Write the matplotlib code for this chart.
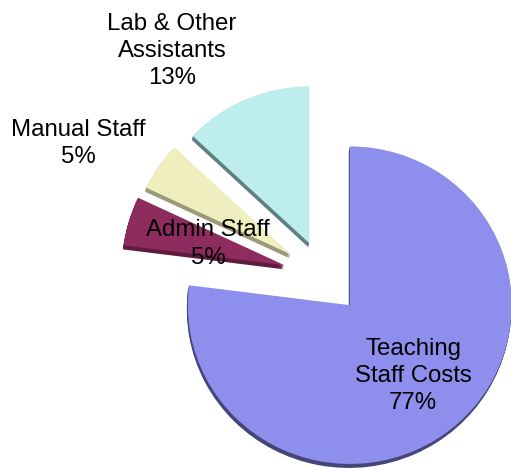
import matplotlib
matplotlib.use("Agg")
import matplotlib.pyplot as plt

categories = ["Teaching\nStaff Costs", "Admin Staff", "Manual Staff", "Lab & Other\nAssistants"]
shares = [77, 5, 5, 13]
top_colors = ["#8E8EEC", "#8E2C5E", "#EEEEBE", "#BDEDED"]
side_colors = ["#45457A", "#5E1B3E", "#9A9A78", "#5F7F80"]
label_px = [(413, 376), (208, 244), (78, 143.5), (172, 51)]

W, H = 511, 470
RADII = [162, 162, 160, 160]
EXPLODE = [39, 41, 40, 37]
CX, CY = 324, 276.5
DEPTH = 4
YS = 0.98  # the pie is slightly flattened by the tilt


def Y(py):
    return (H - py) / YS


plt.rcParams["font.family"] = ["Liberation Sans", "DejaVu Sans"]
fig = plt.figure(figsize=(W / 100, H / 100), dpi=100)
ax = fig.add_axes([0, 0, 1, 1])


def layer(colors, dx, dy):
    wedges, _ = ax.pie(shares, colors=colors, center=(CX + dx, Y(CY + dy)),
                       startangle=90, counterclock=False, radius=RADII[0],
                       explode=EXPLODE, normalize=True, frame=False,
                       wedgeprops=dict(linewidth=0))
    for w, r in zip(wedges, RADII):
        w.set_radius(r)


for d in range(DEPTH, 0, -1):
    layer(side_colors, -0.25 * d, d)
layer(top_colors, 0, 0)

ax.set_aspect("auto")
ax.set_xlim(0, W)
ax.set_ylim(0, H / YS)
ax.axis("off")

for name, share, (px, py) in zip(categories, shares, label_px):
    ax.text(px, Y(py), f"{name}\n{share}%", ha="center", va="center",
            fontsize=17.3, linespacing=1.32, color="black", zorder=10)

fig.savefig("out.png", dpi=100)
